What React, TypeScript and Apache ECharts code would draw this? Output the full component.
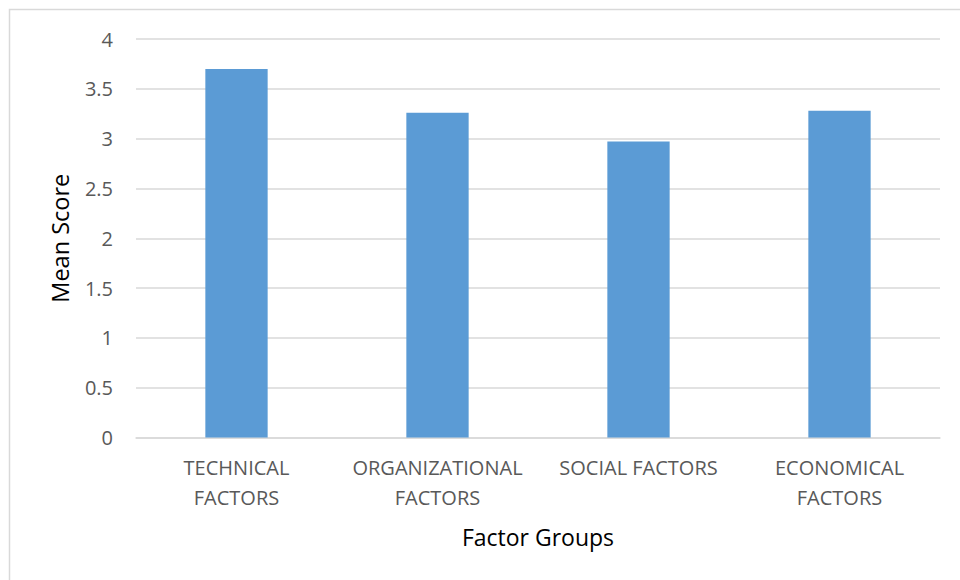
import React, { useEffect, useRef } from "react";
import * as echarts from "echarts";

const categories = ["TECHNICAL\nFACTORS", "ORGANIZATIONAL\nFACTORS", "SOCIAL FACTORS", "ECONOMICAL\nFACTORS"];
const meanScores = [3.7, 3.26, 2.97, 3.28];
const yTicks = [0, 0.5, 1, 1.5, 2, 2.5, 3, 3.5, 4];

const FONT = "'Open Sans', 'Liberation Sans', sans-serif";

export default function App() {
  const ref = useRef<HTMLDivElement>(null);
  useEffect(() => {
    if (!ref.current) return;
    const chart = echarts.init(ref.current, undefined, { renderer: "svg" });
    chart.setOption({
      animation: false,
      backgroundColor: "#ffffff",
      textStyle: { fontFamily: FONT },
      graphic: [
        {
          type: "rect",
          shape: { x: 9.5, y: 9.5, width: 1000, height: 1000 },
          style: { fill: "none", stroke: "#d9d9d9", lineWidth: 1.5 },
          silent: true,
        },
      ],
      grid: { left: 136, right: 20, top: 39, bottom: 142.5 },
      xAxis: {
        type: "category",
        data: categories,
        axisLine: { show: true, lineStyle: { color: "#d9d9d9", width: 1.5 } },
        axisTick: { show: false },
        axisLabel: {
          color: "#595959",
          fontSize: 20,
          fontFamily: FONT,
          lineHeight: 30,
          margin: 15,
          interval: 0,
        },
        name: "Factor Groups",
        nameLocation: "middle",
        nameGap: 88,
        nameTextStyle: { color: "#000000", fontSize: 23, fontFamily: FONT },
      },
      yAxis: {
        type: "value",
        min: 0,
        max: yTicks[yTicks.length - 1],
        interval: yTicks[1] - yTicks[0],
        axisLine: { show: false },
        axisTick: { show: false },
        splitLine: { lineStyle: { color: "#d9d9d9", width: 1.5 } },
        axisLabel: { color: "#595959", fontSize: 20, fontFamily: FONT, margin: 23 },
        name: "Mean Score",
        nameLocation: "middle",
        nameGap: 64,
        nameTextStyle: { color: "#000000", fontSize: 23.5, fontFamily: FONT },
      },
      series: [
        {
          type: "bar",
          data: meanScores,
          barWidth: "31%",
          itemStyle: { color: "#5B9BD5" },
        },
      ],
    });
    return () => chart.dispose();
  }, []);
  return (
    <div
      ref={ref}
      style={{ position: "fixed", left: 0, top: 0, width: 960, height: 580 }}
    />
  );
}
